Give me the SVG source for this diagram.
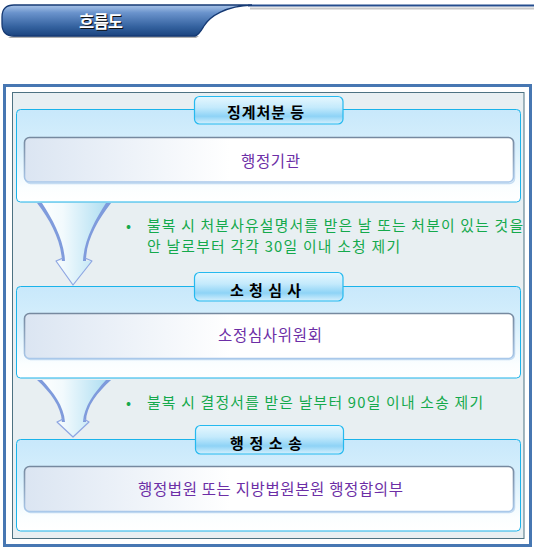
<svg xmlns="http://www.w3.org/2000/svg" width="534" height="548" viewBox="0 0 534 548">
<defs>
<linearGradient id="barGrad" x1="0" y1="0" x2="0" y2="1">
<stop offset="0" stop-color="#a9c4e8"/>
<stop offset="0.25" stop-color="#6a93cc"/>
<stop offset="0.7" stop-color="#34629f"/>
<stop offset="1" stop-color="#1b447f"/>
</linearGradient>
<linearGradient id="panelGrad" x1="0" y1="0" x2="0" y2="1">
<stop offset="0" stop-color="#c8e8fb"/>
<stop offset="0.4" stop-color="#d6effc"/>
<stop offset="0.85" stop-color="#fbfeff"/>
<stop offset="1" stop-color="#ffffff"/>
</linearGradient>
<linearGradient id="tabGrad" x1="0" y1="0" x2="0" y2="1">
<stop offset="0" stop-color="#e6f7fe"/>
<stop offset="0.4" stop-color="#c4eafc"/>
<stop offset="0.72" stop-color="#8ed3f6"/>
<stop offset="1" stop-color="#d6f0fd"/>
</linearGradient>
<linearGradient id="boxGrad" x1="0" y1="0" x2="1" y2="0">
<stop offset="0" stop-color="#dbe5f2"/>
<stop offset="0.42" stop-color="#ffffff"/>
<stop offset="1" stop-color="#ffffff"/>
</linearGradient>
<linearGradient id="boxStroke" x1="0" y1="0" x2="0" y2="1">
<stop offset="0" stop-color="#76899f"/>
<stop offset="0.5" stop-color="#8fa6c0"/>
<stop offset="1" stop-color="#a9c8ea"/>
</linearGradient>
<linearGradient id="funnelGrad" x1="0" y1="0" x2="1" y2="0">
<stop offset="0" stop-color="#ffffff"/>
<stop offset="0.35" stop-color="#f2fafd"/>
<stop offset="1" stop-color="#a9dcf1"/>
</linearGradient>
<style>
.panel{fill:url(#panelGrad);stroke:#1ab3ea;stroke-width:1}
.tab{fill:url(#tabGrad);stroke:#25b9ef;stroke-width:1.2}
.box{fill:url(#boxGrad);stroke:url(#boxStroke);stroke-width:1.6}
.boxsh{fill:none;stroke:#c4dcf2;stroke-width:1.5}
.t{font-family:"Noto Sans CJK KR","Noto Sans",sans-serif}
.tabtxt{font-size:15px;font-weight:bold;fill:#000000}
.boxtxt{font-size:15.5px;fill:#6c2ea6}
.note{font-size:14.8px;fill:#14a94c}
.funnel{fill:url(#funnelGrad)}
.fedge{fill:#7f9bdc}
.fhead{fill:none;stroke:#8ea6e2;stroke-width:1.2;stroke-linejoin:round}
</style>
</defs>

<rect x="0" y="0" width="534" height="548" fill="#ffffff"/>

<g id="header">
<line x1="250" y1="8.5" x2="534" y2="8.5" stroke="#c8c8c8" stroke-width="2"/>
<line x1="248" y1="5.5" x2="534" y2="5.5" stroke="#244d8e" stroke-width="2"/>
<path d="M8,38 L196,38 L199,36 L12,36 Z" fill="#b0b0b0"/>
<path d="M14,5 L252,5 C226,6 210,16 204,26 C201,31 199,35 195,36 L14,36 Q2,36 2,24 L2,17 Q2,5 14,5 Z" fill="url(#barGrad)" stroke="#163a74" stroke-width="1.3"/>
<text class="t" x="80" y="28.5" font-size="16.5" font-weight="bold" fill="#111111" textLength="44" lengthAdjust="spacing">흐름도</text>
<text class="t" x="79" y="27.5" font-size="16.5" font-weight="bold" fill="#ffffff" textLength="44" lengthAdjust="spacing">흐름도</text>
</g>

<g id="frame">
<rect x="4.5" y="85.5" width="526" height="460" fill="#ffffff" stroke="#4777b2" stroke-width="3"/>
<rect x="12.5" y="92.5" width="511.5" height="446" fill="#e8eff2" stroke="#4d7282" stroke-width="1"/>
</g>

<g id="connectors">
<g id="funnel1">
<path class="funnel" d="M37,203 L111,203 C97,220 84,240 84,261 L92,261 L73,285 L56,261 L63,261 C62,240 50,220 37,203 Z"/>
<path class="fedge" d="M37,203 L42,203 C53,220 64,240 65,261 L62,261 C61,240 50,220 37,203 Z"/>
<path class="fedge" d="M111,203 L106,203 C95,220 84,240 83,261 L86,261 C86,240 98,220 111,203 Z"/>
<path class="fhead" d="M63,258 L56,261 L73,285 L92,261 L85,258"/>
</g>
<g id="funnel2">
<path class="funnel" d="M37,380 L111,380 C97,392 84,406 84,422 L89,422 L73,437 L57,422 L63,422 C62,406 50,392 37,380 Z"/>
<path class="fedge" d="M37,380 L42,380 C53,392 64,406 65,422 L62,422 C61,406 50,392 37,380 Z"/>
<path class="fedge" d="M111,380 L106,380 C95,392 84,406 83,422 L86,422 C86,406 98,392 111,380 Z"/>
<path class="fhead" d="M63,419 L57,422 L73,437 L89,422 L84,419"/>
</g>
</g>

<g id="node-discipline">
<rect class="panel" x="16.5" y="109.5" width="504" height="92.5" rx="4"/>
<rect class="boxsh" x="25.5" y="138.5" width="489" height="45" rx="5"/>
<rect class="box" x="24.5" y="137.5" width="489" height="44.5" rx="5"/>
<rect class="tab" x="194.5" y="96.5" width="148.5" height="27.5" rx="5"/>
<text class="t tabtxt" x="227" y="117.5" textLength="77" lengthAdjust="spacing">징계처분 등</text>
<text class="t boxtxt" x="241" y="166.5" textLength="59" lengthAdjust="spacing">행정기관</text>
</g>

<g id="note1">
<text class="t note" x="126" y="231">•</text>
<text class="t note" x="147" y="231" textLength="376" lengthAdjust="spacing">불복 시 처분사유설명서를 받은 날 또는 처분이 있는 것을</text>
<text class="t note" x="147" y="252" textLength="253" lengthAdjust="spacing">안 날로부터 각각 30일 이내 소청 제기</text>
</g>

<g id="node-review">
<rect class="panel" x="16.5" y="286.5" width="504" height="91.5" rx="4"/>
<rect class="boxsh" x="25.5" y="314.5" width="489" height="45" rx="5"/>
<rect class="box" x="24.5" y="313.5" width="489" height="45" rx="5"/>
<rect class="tab" x="194.5" y="272.5" width="148.5" height="28.5" rx="5"/>
<text class="t tabtxt" x="230" y="295.5" textLength="71" lengthAdjust="spacing">소 청 심 사</text>
<text class="t boxtxt" x="218" y="341" textLength="104" lengthAdjust="spacing">소정심사위원회</text>
</g>

<g id="note2">
<text class="t note" x="126" y="408">•</text>
<text class="t note" x="147" y="408" textLength="336" lengthAdjust="spacing">불복 시 결정서를 받은 날부터 90일 이내 소송 제기</text>
</g>

<g id="node-lawsuit">
<rect class="panel" x="16.5" y="439.5" width="504" height="91.5" rx="4"/>
<rect class="boxsh" x="25.5" y="467.5" width="489" height="45" rx="5"/>
<rect class="box" x="24.5" y="466.5" width="489" height="45" rx="5"/>
<rect class="tab" x="195.5" y="425.5" width="148" height="28.5" rx="5"/>
<text class="t tabtxt" x="230" y="448.5" textLength="72" lengthAdjust="spacing">행 정 소 송</text>
<text class="t boxtxt" x="138" y="495" textLength="265" lengthAdjust="spacing">행정법원 또는 지방법원본원 행정합의부</text>
</g>
</svg>
